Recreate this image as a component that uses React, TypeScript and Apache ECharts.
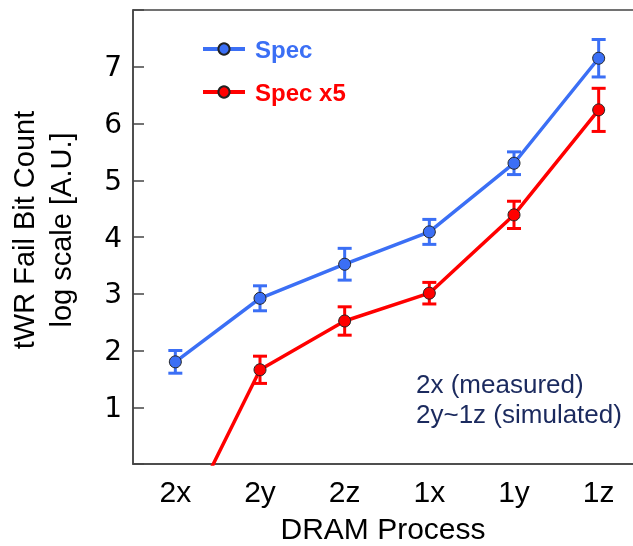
import React, { useEffect, useRef } from 'react';
import * as echarts from 'echarts';

const categories = ['2x', '2y', '2z', '1x', '1y', '1z'];
const specValues = [1.8, 2.92, 3.52, 4.09, 5.3, 7.15];
const specErrors = [0.2, 0.22, 0.28, 0.22, 0.2, 0.33];
const spec5Values = [-1.35, 1.66, 2.52, 3.01, 4.39, 6.24];
const spec5Errors: (number | null)[] = [null, 0.24, 0.25, 0.19, 0.24, 0.38];
const yTickLabels = [1, 2, 3, 4, 5, 6, 7];
const seriesNames = ['Spec', 'Spec x5'];
const noteLines = ['2x (measured)', '2y~1z (simulated)'];
const yTitleLines = ['tWR Fail Bit Count', 'log scale [A.U.]'];
const xTitle = 'DRAM Process';

const BLUE = '#3b6ff5';
const RED = '#ff0000';
const ARIAL = '"Liberation Sans", Arial, sans-serif';

function errData(vals: number[], errs: (number | null)[]) {
  const out: number[][] = [];
  vals.forEach((v, i) => {
    const e = errs[i];
    if (e != null) out.push([i, v, e]);
  });
  return out;
}

function errRender(color: string) {
  return (params: any, api: any) => {
    const x = api.value(0);
    const y = api.value(1);
    const e = api.value(2);
    const top = api.coord([x, y + e]);
    const bot = api.coord([x, y - e]);
    const hw = 7;
    const style = { stroke: color, lineWidth: 3 };
    return {
      type: 'group',
      children: [
        { type: 'line', shape: { x1: top[0], y1: top[1], x2: bot[0], y2: bot[1] }, style },
        { type: 'line', shape: { x1: top[0] - hw, y1: top[1], x2: top[0] + hw, y2: top[1] }, style },
        { type: 'line', shape: { x1: bot[0] - hw, y1: bot[1], x2: bot[0] + hw, y2: bot[1] }, style },
      ],
    };
  };
}

export default function App() {
  const ref = useRef<HTMLDivElement>(null);
  useEffect(() => {
    if (!ref.current) return;
    const chart = echarts.init(ref.current, null, { renderer: 'svg' });
    const lineSeries = (name: string, data: number[], color: string) => ({
      name,
      type: 'line',
      data,
      clip: true,
      z: 4,
      symbol: 'circle',
      symbolSize: 12,
      lineStyle: { color, width: 3.5 },
      itemStyle: { color, borderColor: '#222', borderWidth: 1 },
    });
    chart.setOption({
      animation: false,
      grid: {
        left: 133,
        top: 10,
        width: 508,
        height: 454,
        containLabel: false,
        outerBoundsMode: 'none',
        show: true,
        borderColor: '#444',
        borderWidth: 1.5,
      },
      legend: {
        orient: 'vertical',
        left: 196,
        top: 32,
        itemWidth: 42,
        itemHeight: 14,
        itemGap: 19,
        lineStyle: { width: 4 },
        data: [
          { name: seriesNames[0], textStyle: { color: BLUE } },
          { name: seriesNames[1], textStyle: { color: RED } },
        ],
        textStyle: {
          fontFamily: ARIAL,
          fontSize: 24,
          fontWeight: 'bold',
          padding: [0, 0, 0, 5],
        },
      },
      xAxis: {
        type: 'category',
        data: categories,
        boundaryGap: true,
        axisLine: { lineStyle: { color: '#444', width: 1.5 } },
        axisTick: { inside: true, alignWithLabel: true, length: 10, lineStyle: { color: '#444', width: 1.5 } },
        axisLabel: { color: '#000', fontFamily: ARIAL, fontSize: 30, margin: 12 },
        name: xTitle,
        nameLocation: 'middle',
        nameGap: 49,
        nameTextStyle: { color: '#000', fontFamily: ARIAL, fontSize: 30, padding: [0, 8, 0, 0] },
      },
      yAxis: {
        type: 'value',
        min: 0,
        max: 8,
        interval: 1,
        splitLine: { show: false },
        axisLine: { show: true, lineStyle: { color: '#444', width: 1.5 } },
        axisTick: { show: true, inside: true, length: 11, lineStyle: { color: '#444', width: 1.5 } },
        axisLabel: {
          color: '#000',
          fontFamily: '"DejaVu Sans", Verdana, sans-serif',
          fontSize: 28,
          margin: 11,
          formatter: (v: number) => (yTickLabels.indexOf(v) >= 0 ? String(v) : ''),
        },
      },
      graphic: [
        {
          type: 'text',
          x: 42,
          y: 230,
          rotation: Math.PI / 2,
          style: {
            text: yTitleLines.join('\n'),
            fontFamily: ARIAL,
            fontSize: 29,
            lineHeight: 37,
            fill: '#000',
            align: 'center',
            verticalAlign: 'middle',
          },
        },
        {
          type: 'text',
          x: 416,
          y: 384,
          style: {
            text: noteLines[0],
            fontFamily: ARIAL,
            fontSize: 26,
            fill: '#1b2a5e',
            align: 'left',
            verticalAlign: 'middle',
          },
        },
        {
          type: 'text',
          x: 416,
          y: 414,
          style: {
            text: noteLines[1],
            fontFamily: ARIAL,
            fontSize: 26,
            fill: '#1b2a5e',
            align: 'left',
            verticalAlign: 'middle',
          },
        },
      ],
      series: [
        {
          name: 'Spec error',
          type: 'custom',
          renderItem: errRender(BLUE),
          data: errData(specValues, specErrors),
          encode: { x: 0, y: 1 },
          z: 3,
        },
        {
          name: 'Spec x5 error',
          type: 'custom',
          renderItem: errRender(RED),
          data: errData(spec5Values, spec5Errors),
          encode: { x: 0, y: 1 },
          z: 3,
        },
        lineSeries(seriesNames[0], specValues, BLUE),
        lineSeries(seriesNames[1], spec5Values, RED),
      ],
    });
    return () => chart.dispose();
  }, []);
  return <div ref={ref} style={{ position: 'fixed', left: 0, top: 0, width: 633, height: 546 }} />;
}
